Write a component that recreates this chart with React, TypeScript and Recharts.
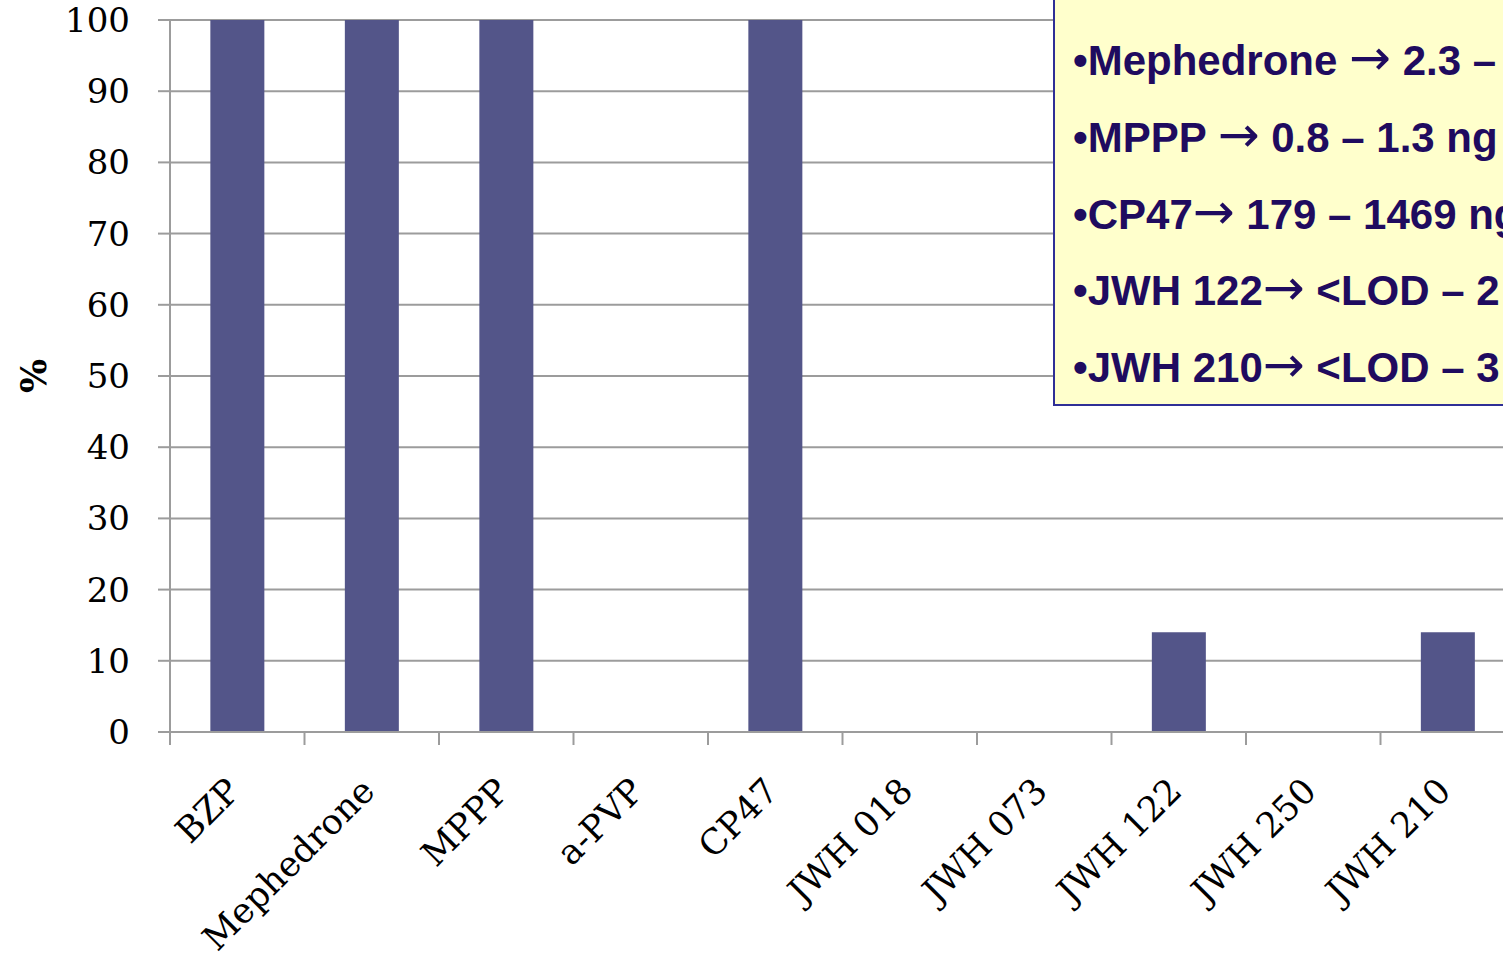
import React from "react"
import { Bar, BarChart, CartesianGrid, XAxis, YAxis } from "recharts"

const categories = ["BZP", "Mephedrone", "MPPP", "a-PVP", "CP47", "JWH 018", "JWH 073", "JWH 122", "JWH 250", "JWH 210"]
const percentDetected = [100, 100, 100, 0, 100, 0, 0, 14, 0, 14]
const yTicks = [0, 10, 20, 30, 40, 50, 60, 70, 80, 90, 100]
// each note: text before the arrow, text after it
const noteLines = [
  ["•Mephedrone ", " 2.3 –"],
  ["•MPPP ", " 0.8 – 1.3 ng"],
  ["•CP47", " 179 – 1469 ng"],
  ["•JWH 122", " <LOD – 2"],
  ["•JWH 210", " <LOD – 3"],
]

const data = categories.map((name, i) => ({ name, value: percentDetected[i] }))

const CHART_W = 1530
const CHART_H = 956
const Y_AXIS_W = 170
const MARGIN = { top: 20, right: 15, left: 0, bottom: 0 }
const BAND = (CHART_W - Y_AXIS_W - MARGIN.left - MARGIN.right) / categories.length
const GREY = "#9c9c9c"
const BAR = "#535589"
const SERIF = "'DejaVu Serif', 'Liberation Serif', serif"

function CategoryTick(props: any) {
  const { x, y, payload } = props
  const tx = x + 5
  const ty = y + 61
  return (
    <g>
      <line x1={x - BAND / 2} x2={x - BAND / 2} y1={y} y2={y + 13} stroke={GREY} strokeWidth={2} />
      <text
        x={tx}
        y={ty}
        transform={`rotate(-45 ${tx} ${ty})`}
        textAnchor="end"
        fontFamily={SERIF}
        fontSize={35}
        fill="#000"
      >
        {payload.value}
      </text>
    </g>
  )
}

function PercentLabel(props: any) {
  const { viewBox } = props
  const cx = viewBox.x + 33
  const cy = viewBox.y + viewBox.height / 2
  return (
    <text
      x={cx}
      y={cy}
      transform={`rotate(-90 ${cx} ${cy})`}
      textAnchor="middle"
      dominantBaseline="central"
      fontFamily={SERIF}
      fontWeight="bold"
      fontSize={36}
      fill="#000"
    >
      %
    </text>
  )
}

export default function App() {
  return (
    <div
      style={{
        position: "fixed",
        left: 0,
        top: 0,
        width: 1503,
        height: 956,
        overflow: "hidden",
        background: "#fff",
      }}
    >
      <BarChart width={CHART_W} height={CHART_H} data={data} margin={MARGIN} barCategoryGap="30%">
        <CartesianGrid vertical={false} stroke={GREY} strokeWidth={2} />
        <XAxis
          dataKey="name"
          interval={0}
          height={224}
          tickSize={0}
          tickMargin={0}
          tickLine={false}
          axisLine={{ stroke: GREY, strokeWidth: 2 }}
          tick={<CategoryTick />}
        />
        <YAxis
          width={Y_AXIS_W}
          domain={[0, 100]}
          ticks={yTicks}
          interval={0}
          tickSize={12}
          tickMargin={28}
          tickLine={{ stroke: GREY, strokeWidth: 2 }}
          axisLine={{ stroke: GREY, strokeWidth: 2 }}
          tick={{ fontFamily: SERIF, fontSize: 34, fill: "#000" }}
          label={<PercentLabel />}
        />
        <Bar dataKey="value" fill={BAR} isAnimationActive={false} />
      </BarChart>
      <svg
        width={1503}
        height={956}
        style={{ position: "absolute", left: 0, top: 0, pointerEvents: "none" }}
      >
        <rect x={1054} y={-10} width={520} height={415} fill="#ffffcc" stroke="#2f2f96" strokeWidth={2} />
        {noteLines.map(([before, after], i) => (
          <text
            key={before}
            x={1073}
            y={75 + i * 76.75}
            fontFamily="'Liberation Sans', Arial, sans-serif"
            fontWeight="bold"
            fontSize={42}
            fill="#1f0b5f"
          >
            {before}
            <tspan fontFamily="'DejaVu Sans', sans-serif" fontWeight="normal" fontSize={50}>→</tspan>
            {after}
          </text>
        ))}
      </svg>
    </div>
  )
}
